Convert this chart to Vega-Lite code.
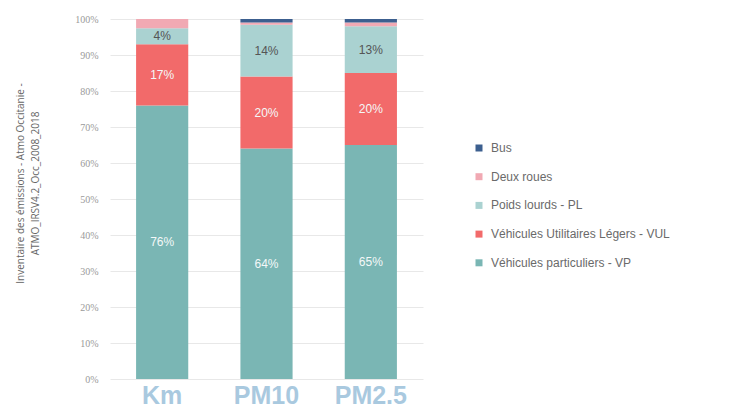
{
  "$schema": "https://vega.github.io/schema/vega-lite/v6.json",
  "width": 313,
  "height": 360,
  "autosize": "none",
  "padding": {"left": 110, "top": 19, "right": 307, "bottom": 30},
  "background": "white",
  "config": {
    "view": {"stroke": null},
    "axisY": {
      "labelOverlap": false,
      "titleFont": "Open Sans",
      "titleFontWeight": "normal",
      "titleFontSize": 10,
      "titleColor": "#666666",
      "titlePadding": 34,
      "titleLineHeight": 15,
      "titleY": 164,
      "labelFont": "Liberation Sans Narrow",
      "labelFontSize": 10,
      "labelColor": "#9a9a9a",
      "labelPadding": 12,
      "ticks": false,
      "domain": false,
      "gridColor": "#e8e8e8",
      "grid": true
    }
  },
  "data": {
    "values": [
      {"polluant": "Km", "cat": "Véhicules particuliers - VP", "ord": 1, "value": 0.76},
      {"polluant": "Km", "cat": "Véhicules Utilitaires Légers - VUL", "ord": 2, "value": 0.17},
      {"polluant": "Km", "cat": "Poids lourds - PL", "ord": 3, "value": 0.044},
      {"polluant": "Km", "cat": "Deux roues", "ord": 4, "value": 0.026},
      {"polluant": "Km", "cat": "Bus", "ord": 5, "value": 0.0},
      {"polluant": "PM10", "cat": "Véhicules particuliers - VP", "ord": 1, "value": 0.64},
      {"polluant": "PM10", "cat": "Véhicules Utilitaires Légers - VUL", "ord": 2, "value": 0.20},
      {"polluant": "PM10", "cat": "Poids lourds - PL", "ord": 3, "value": 0.144},
      {"polluant": "PM10", "cat": "Deux roues", "ord": 4, "value": 0.006},
      {"polluant": "PM10", "cat": "Bus", "ord": 5, "value": 0.01},
      {"polluant": "PM2.5", "cat": "Véhicules particuliers - VP", "ord": 1, "value": 0.65},
      {"polluant": "PM2.5", "cat": "Véhicules Utilitaires Légers - VUL", "ord": 2, "value": 0.20},
      {"polluant": "PM2.5", "cat": "Poids lourds - PL", "ord": 3, "value": 0.13},
      {"polluant": "PM2.5", "cat": "Deux roues", "ord": 4, "value": 0.01},
      {"polluant": "PM2.5", "cat": "Bus", "ord": 5, "value": 0.01}
    ]
  },
  "transform": [
    {"stack": "value", "groupby": ["polluant"], "sort": [{"field": "ord", "order": "ascending"}], "as": ["y0", "y1"]},
    {"calculate": "(datum.y0 + datum.y1) / 2", "as": "ymid"}
  ],
  "encoding": {
    "x": {
      "field": "polluant",
      "type": "nominal",
      "sort": ["Km", "PM10", "PM2.5"],
      "scale": {"paddingInner": 0.5, "paddingOuter": 0.25},
      "axis": {
        "title": null,
        "labelAngle": 0,
        "labelFont": "Liberation Sans",
        "labelFontWeight": "bold",
        "labelFontSize": 25,
        "labelColor": "#a9c9df",
        "labelPadding": 4,
        "ticks": false,
        "domain": false
      }
    }
  },
  "layer": [
    {
      "mark": {"type": "bar"},
      "encoding": {
        "y": {
          "field": "y0",
          "type": "quantitative",
          "scale": {"domain": [0, 1]},
          "axis": {
            "format": ".0%",
            "values": [0, 0.1, 0.2, 0.3, 0.4, 0.5, 0.6, 0.7, 0.8, 0.9, 1],
            "title": ["Inventaire des émissions - Atmo Occitanie -", "ATMO_IRSV4.2_Occ_2008_2018"]
          }
        },
        "y2": {"field": "y1"},
        "color": {
          "field": "cat",
          "type": "nominal",
          "scale": {
            "domain": ["Bus", "Deux roues", "Poids lourds - PL", "Véhicules Utilitaires Légers - VUL", "Véhicules particuliers - VP"],
            "range": ["#3c5f8f", "#f1a9b3", "#aad2d1", "#f26a6a", "#7ab6b4"]
          },
          "legend": {
            "title": null,
            "orient": "none",
            "legendX": 363,
            "legendY": 123,
            "symbolType": "square",
            "symbolSize": 49,
            "symbolStrokeWidth": 0,
            "labelFont": "Liberation Sans",
            "labelFontSize": 12,
            "labelColor": "#6a6a6a",
            "rowPadding": 16.7,
            "labelOffset": 6,
            "labelLimit": 300
          }
        }
      }
    },
    {
      "transform": [{"filter": "datum.value >= 0.04"}],
      "mark": {"type": "text", "font": "Liberation Sans", "fontSize": 12, "baseline": "middle"},
      "encoding": {
        "y": {
          "field": "ymid",
          "type": "quantitative",
          "axis": {
            "format": ".0%",
            "values": [0, 0.1, 0.2, 0.3, 0.4, 0.5, 0.6, 0.7, 0.8, 0.9, 1],
            "title": ["Inventaire des émissions - Atmo Occitanie -", "ATMO_IRSV4.2_Occ_2008_2018"]
          }
        },
        "text": {"field": "value", "type": "quantitative", "format": ".0%"},
        "color": {
          "condition": {"test": "datum.cat === 'Poids lourds - PL'", "value": "#555555"},
          "value": "#f4f8f8"
        }
      }
    }
  ]
}
